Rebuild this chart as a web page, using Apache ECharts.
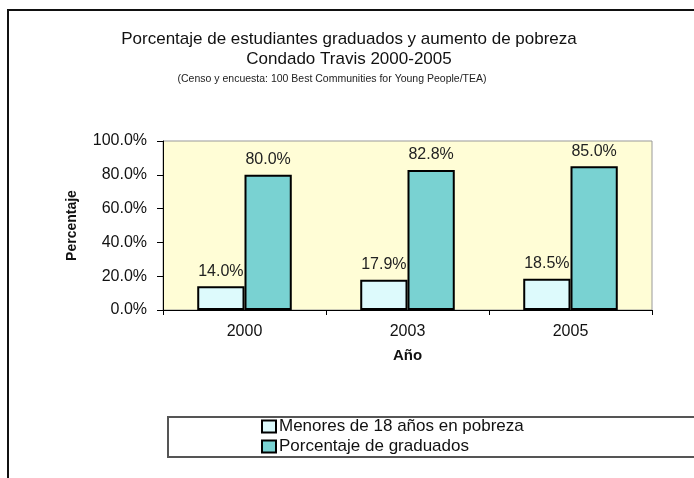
<!DOCTYPE html>
<html style="height: 100%">
<head>
    <meta charset="utf-8">
    <title>ECharts</title>
    <script src="https://cdn.jsdelivr.net/npm/echarts@6/dist/echarts.min.js"></script>
</head>
<body style="height: 100%; margin: 0; background: #fff">
<div id="main" style="width: 694px; height: 478px"></div>
<script type="text/javascript">
    // data
    var years = ['2000', '2003', '2005'];
    var pobreza = [14.0, 17.9, 18.5];
    var graduados = [80.0, 82.8, 85.0];
    var seriesNames = ['Menores de 18 años en pobreza', 'Porcentaje de graduados'];

    var myChart = echarts.init(document.getElementById('main'));
    var font = 'Liberation Sans, Arial, sans-serif';

    var pct = function (v) { return v.toFixed(1) + '%'; };

    option = {
        backgroundColor: '#fff',
        textStyle: { fontFamily: font },
        title: [
            {
                text: 'Porcentaje de estudiantes graduados y aumento de pobreza\nCondado Travis 2000-2005',
                left: 344, top: 24, textAlign: 'center',
                textStyle: { fontSize: 17, fontWeight: 'normal', color: '#111', lineHeight: 20, fontFamily: font }
            },
            {
                text: '(Censo y encuesta: 100 Best Communities for Young People/TEA)',
                left: 327, top: 69, textAlign: 'center',
                textStyle: { fontSize: 10.5, fontWeight: 'normal', color: '#222', fontFamily: font }
            }
        ],
        legend: {
            orient: 'vertical',
            left: 256, top: 413,
            itemWidth: 14, itemHeight: 12, itemGap: 3,
            icon: 'rect',
            textStyle: { fontSize: 17, color: '#111', padding: [0, 0, 0, -2] },
            data: seriesNames
        },
        grid: {
            left: 163, right: 42, top: 141, bottom: 168,
            show: true, backgroundColor: '#FFFDD6', borderColor: '#999', borderWidth: 1
        },
        xAxis: {
            type: 'category',
            data: years,
            name: 'Año', nameLocation: 'middle', nameGap: 38,
            nameTextStyle: { fontWeight: 'bold', fontSize: 15, color: '#111' },
            axisLine: { lineStyle: { color: '#000', width: 1 } },
            axisTick: { show: true, length: 5, lineStyle: { color: '#000' } },
            axisLabel: { fontSize: 16, color: '#111', margin: 14 }
        },
        yAxis: {
            type: 'value',
            min: 0, max: 100, interval: 20,
            name: 'Percentaje', nameLocation: 'middle', nameGap: 84, nameRotate: 90,
            nameTextStyle: { fontWeight: 'bold', fontSize: 14, color: '#111' },
            axisLine: { show: true, lineStyle: { color: '#000', width: 1 } },
            axisTick: { show: true, length: 6, inside: false, lineStyle: { color: '#000' } },
            axisLabel: { fontSize: 16, color: '#111', margin: 16, formatter: pct },
            splitLine: { show: false }
        },
        series: [
            {
                name: seriesNames[0],
                type: 'bar',
                data: pobreza,
                barGap: '0%',
                barCategoryGap: '42%',
                itemStyle: { color: '#DDFAFC', borderColor: '#000', borderWidth: 2 },
                label: { show: true, position: 'top', distance: 7, fontSize: 16, color: '#222', formatter: function (p) { return pct(p.value); } }
            },
            {
                name: seriesNames[1],
                type: 'bar',
                data: graduados,
                itemStyle: { color: '#79D2D2', borderColor: '#000', borderWidth: 2 },
                label: { show: true, position: 'top', distance: 7, fontSize: 16, color: '#222', formatter: function (p) { return pct(p.value); } }
            }
        ],
        graphic: [
            {
                type: 'polyline', silent: true,
                shape: { points: [[8, 480], [8, 10], [700, 10]] },
                style: { stroke: '#111', lineWidth: 2, fill: null }
            },
            {
                type: 'rect', silent: true,
                shape: { x: 168, y: 417, width: 540, height: 40 },
                style: { stroke: '#555', lineWidth: 2, fill: null }
            }
        ]
    };

    myChart.setOption(option);
</script>
</body>
</html>
